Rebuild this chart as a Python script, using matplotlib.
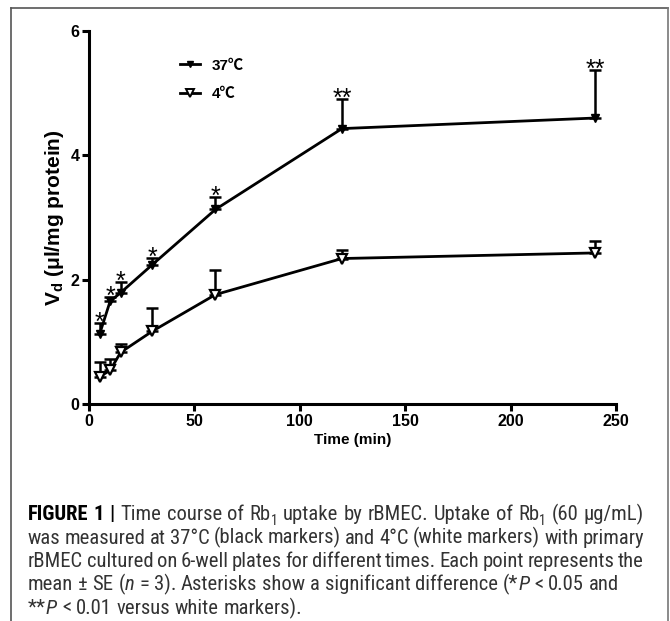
import matplotlib
matplotlib.use("Agg")
import matplotlib.pyplot as plt
from matplotlib.lines import Line2D
from matplotlib import font_manager as fm

# ---------------- data ----------------
time_min = [5, 10, 15, 30, 60, 120, 240]
v37 = [1.12, 1.65, 1.79, 2.24, 3.13, 4.43, 4.60]
v37_top = [1.30, 1.72, 1.97, 2.35, 3.33, 4.90, 5.37]
v4 = [0.44, 0.54, 0.83, 1.17, 1.76, 2.34, 2.43]
v4_top = [0.67, 0.72, 0.97, 1.54, 2.15, 2.48, 2.63]
stars = ["*", "*", "*", "*", "*", "**", "**"]
x_ticks = [0, 50, 100, 150, 200, 250]
y_ticks = [0, 2, 4, 6]
labels = ["37\u2103", "4\u2103"]

W, H = 670, 621
DPI = 100

plt.rcParams["font.family"] = ["Liberation Sans", "DejaVu Sans"]
plt.rcParams["mathtext.fontset"] = "custom"
plt.rcParams["mathtext.rm"] = "Liberation Sans"
plt.rcParams["mathtext.bf"] = "Liberation Sans:bold"
plt.rcParams["mathtext.it"] = "Liberation Sans:italic"

fig = plt.figure(figsize=(W / DPI, H / DPI), dpi=DPI)


def px_x(x):
    return x / W


def px_y(y):
    return 1 - y / H


# frame lines around the figure panel
frame_col = "#555555"
fig.add_artist(Line2D([px_x(11), px_x(11)], [px_y(8), px_y(621)], color=frame_col, lw=1.2))
fig.add_artist(Line2D([px_x(11), px_x(668)], [px_y(8), px_y(8)], color=frame_col, lw=1.2))
fig.add_artist(Line2D([px_x(668), px_x(668)], [px_y(8), px_y(621)], color="#777777", lw=1.2))

# ---------------- axes ----------------
left, right, top, bottom = 89, 616, 31, 404
ax = fig.add_axes([px_x(left), px_y(bottom), (right - left) / W, (bottom - top) / H])
ax.set_xlim(0, 250)
ax.set_ylim(0, 6)
for s in ["top", "right"]:
    ax.spines[s].set_visible(False)
for s in ["left", "bottom"]:
    ax.spines[s].set_linewidth(2.2)
ax.spines["left"].set_bounds(0, 6)
ax.spines["bottom"].set_bounds(0, 250)
ax.set_xticks(x_ticks)
ax.set_yticks(y_ticks)
ax.tick_params(direction="out", length=5, width=2.2, labelsize=11.5, pad=2)
for lab in ax.get_xticklabels() + ax.get_yticklabels():
    lab.set_fontweight("bold")

err37 = [t - v for t, v in zip(v37_top, v37)]
err4 = [t - v for t, v in zip(v4_top, v4)]
zeros = [0] * len(time_min)

ax.errorbar(time_min, v37, yerr=[zeros, err37], fmt="none", ecolor="black",
            elinewidth=1.8, capsize=4, capthick=1.8, clip_on=False, zorder=2)
ax.errorbar(time_min, v4, yerr=[zeros, err4], fmt="none", ecolor="black",
            elinewidth=1.8, capsize=4, capthick=1.8, clip_on=False, zorder=2)
ax.plot(time_min, v37, color="black", lw=2.0, marker="v", markersize=6,
        markerfacecolor="black", markeredgecolor="black", clip_on=False, zorder=3)
ax.plot(time_min, v4, color="black", lw=2.0, marker="v", markersize=7.5,
        markerfacecolor="white", markeredgecolor="black", markeredgewidth=1.6,
        clip_on=False, zorder=3)

for t, yt, s in zip(time_min, v37_top, stars):
    ax.annotate(s, xy=(t, yt), xytext=(0, -5), textcoords="offset points",
                ha="center", va="baseline", fontsize=18, zorder=4)

ax.set_xlabel("Time (min)", fontsize=11, fontweight="bold", labelpad=3)
ax.set_ylabel(r"$\mathbf{V_d}$" + " (\u03bcl/mg protein)", fontsize=15, fontweight="bold", labelpad=3)

handles = [
    Line2D([], [], color="black", lw=2.0, marker="v", markersize=5, markerfacecolor="black"),
    Line2D([], [], color="black", lw=2.0, marker="v", markersize=6, markerfacecolor="white",
           markeredgewidth=1.4),
]
leg = ax.legend(handles, labels, loc="upper left", bbox_to_anchor=(px_x(166), px_y(45)),
                bbox_transform=fig.transFigure, frameon=False, handlelength=1.3,
                handletextpad=0.8, labelspacing=0.95,
                prop={"family": ["Liberation Sans", "Noto Sans CJK SC", "DejaVu Sans"],
                      "weight": "bold", "size": 11})

# ---------------- caption ----------------
def pick_font(cands):
    for c in cands:
        try:
            fm.findfont(fm.FontProperties(family=c), fallback_to_default=False)
            return c
        except Exception:
            continue
    return "DejaVu Sans"

cap_font = pick_font(["Liberation Sans Narrow", "Roboto Condensed", "Liberation Sans"])
cap_col = "#333333"

REG = dict(weight="normal", style="normal", sub=False, color=cap_col)
BOLD = dict(weight="bold", style="normal", sub=False, color="black")
ITAL = dict(weight="normal", style="italic", sub=False, color=cap_col)
SUB = dict(weight="normal", style="normal", sub=True, color=cap_col)

caption = [
    ([[("FIGURE", BOLD)], [("1", BOLD)], [("|", BOLD)], [("Time", REG)], [("course", REG)], [("of", REG)],
      [("Rb", REG), ("1", SUB)], [("uptake", REG)], [("by", REG)], [("rBMEC.", REG)], [("Uptake", REG)],
      [("of", REG)], [("Rb", REG), ("1", SUB)], [("(60", REG)], [("\u03bcg/mL)", REG)]], True),
    ([[(w, REG)] for w in "was measured at 37\u00b0C (black markers) and 4\u00b0C (white markers) with primary".split()], True),
    ([[(w, REG)] for w in "rBMEC cultured on 6-well plates for different times. Each point represents the".split()], True),
    ([[("mean", REG)], [("\u00b1", REG)], [("SE", REG)], [("(", REG), ("n", ITAL)], [("=", REG)], [("3).", REG)],
      [("Asterisks", REG)], [("show", REG)], [("a", REG)], [("significant", REG)], [("difference", REG)],
      [("(*", REG), ("P", ITAL)], [("<", REG)], [("0.05", REG)], [("and", REG)]], False),
    ([[("**", REG), ("P", ITAL)], [("<", REG)], [("0.01", REG)], [("versus", REG)], [("white", REG)],
      [("markers).", REG)]], False),
]

renderer = fig.canvas.get_renderer()


def measure(text, st, size):
    t = fig.text(0, 0, text, fontsize=size * (0.68 if st["sub"] else 1), family=cap_font,
                 weight=st["weight"], style=st["style"])
    w = t.get_window_extent(renderer).width
    t.remove()
    return w


def word_width(word, size):
    return sum(measure(t, st, size) for t, st in word)


x0, x1 = 28, 644
base_size = 10.0
sp = measure("a a", REG, base_size) - measure("aa", REG, base_size)
w4 = sum(word_width(w, base_size) for w in caption[3][0]) + sp * (len(caption[3][0]) - 1)
cap_size = base_size * (612 - x0) / w4
space_w = measure("a a", REG, cap_size) - measure("aa", REG, cap_size)

y_lines = [520, 543.5, 567, 590.5, 614]
for (words, justify), yb in zip(caption, y_lines):
    widths = [word_width(w, cap_size) for w in words]
    gap = space_w
    if justify and len(words) > 1:
        gap = (x1 - x0 - sum(widths)) / (len(words) - 1)
    x = x0
    for w, ww in zip(words, widths):
        xx = x
        for t, st in w:
            size = cap_size * (0.68 if st["sub"] else 1)
            yy = yb + (cap_size * 0.25 * DPI / 72 if st["sub"] else 0)
            fig.text(px_x(xx), px_y(yy), t, fontsize=size, family=cap_font,
                     weight=st["weight"], style=st["style"], color=st["color"],
                     va="baseline", ha="left")
            xx += measure(t, st, cap_size)
        x += ww + gap

fig.savefig("out.png", dpi=DPI)
